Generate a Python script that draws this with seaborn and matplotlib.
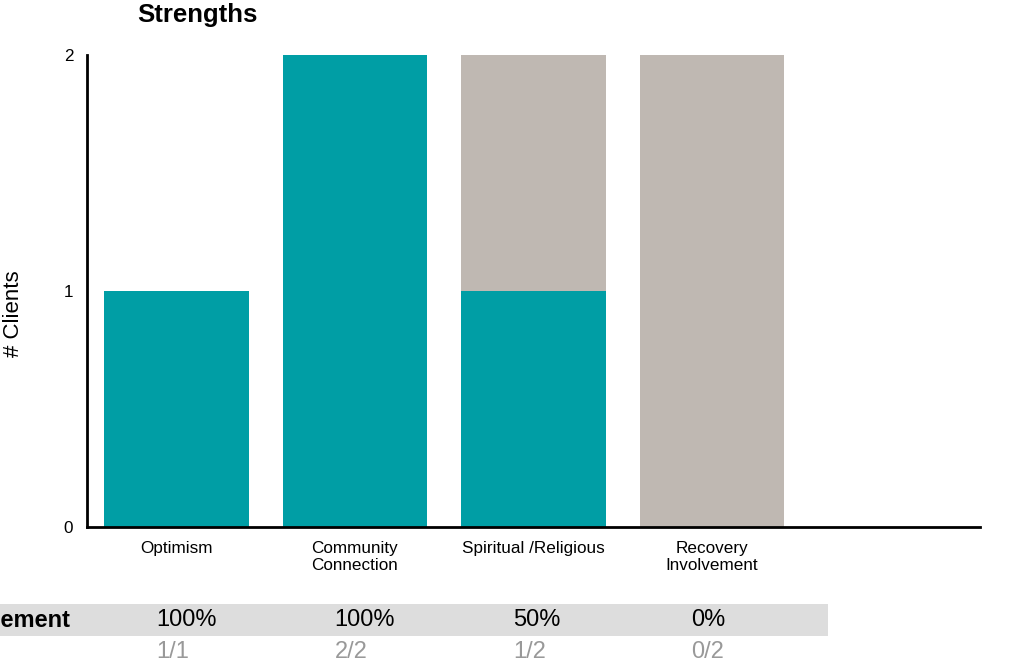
import matplotlib
matplotlib.use('Agg')

import matplotlib.pyplot as plt
import matplotlib.transforms as mtransforms
from matplotlib.patches import Rectangle
import seaborn as sns
import pandas as pd

# dados
categorias = ["Optimism", "Community\nConnection", "Spiritual /Religious", "Recovery\nInvolvement", ""]
atingidos = [1, 2, 1, 0, 0]
totais = [1, 2, 2, 2, 0]
percentuais = ["100%", "100%", "50%", "0%"]
fracoes = ["1/1", "2/2", "1/2", "0/2"]
rotulo_linha = "Engagement"

TEAL = "#009ea5"
CINZA = "#bfb8b2"

sns.set_theme(style="white")
plt.rcParams['font.family'] = ['Liberation Sans', 'DejaVu Sans']
plt.rcParams['text.color'] = 'black'

df = pd.DataFrame({"categoria": categorias, "atingidos": atingidos, "totais": totais})

fig = plt.figure(figsize=(10.24, 6.71), dpi=100)
ax = fig.add_axes([0.085, 0.2146, 0.872, 0.7034])

sns.barplot(data=df, x="categoria", y="totais", color=CINZA, width=0.81,
            saturation=1, linewidth=0, ax=ax)
sns.barplot(data=df, x="categoria", y="atingidos", color=TEAL, width=0.81,
            saturation=1, linewidth=0, ax=ax)

ax.set_xlim(-0.5, 4.5)
ax.set_ylim(0, 2)
ax.set_yticks([0, 1, 2])
ax.tick_params(axis="both", length=0, labelsize=12.3, colors="black")
ax.tick_params(axis="x", pad=10)
ax.tick_params(axis="y", pad=10)
ax.set_xlabel("")
ax.set_ylabel("# Clients", fontsize=16, color="black")
ax.yaxis.set_label_coords(-0.0705, 0.451)
sns.despine(ax=ax)
for lado in ["left", "bottom"]:
    ax.spines[lado].set_color("black")
    ax.spines[lado].set_linewidth(2)

fig.text(0.134, 0.978, "Strengths", fontsize=18.5, fontweight="bold", va="center", ha="left")

# tabela abaixo do grafico
ax.add_patch(Rectangle((0, 0.052), 0.809, 0.048, transform=fig.transFigure,
                       facecolor="#dddddd", edgecolor="none", zorder=0.5, clip_on=False))
trans = mtransforms.blended_transform_factory(ax.transData, fig.transFigure)
for i, (p, f) in enumerate(zip(percentuais, fracoes)):
    ax.text(i - 0.115, 0.076, p, transform=trans, fontsize=17, ha="left", va="center",
            color="black", clip_on=False, zorder=3)
    ax.text(i - 0.115, 0.029, f, transform=trans, fontsize=17, ha="left", va="center",
            color="#999999", clip_on=False, zorder=3)
fig.text(0.069, 0.076, rotulo_linha, fontsize=17, fontweight="bold", ha="right", va="center")

fig.savefig("out.png", dpi=100)
plt.close()
